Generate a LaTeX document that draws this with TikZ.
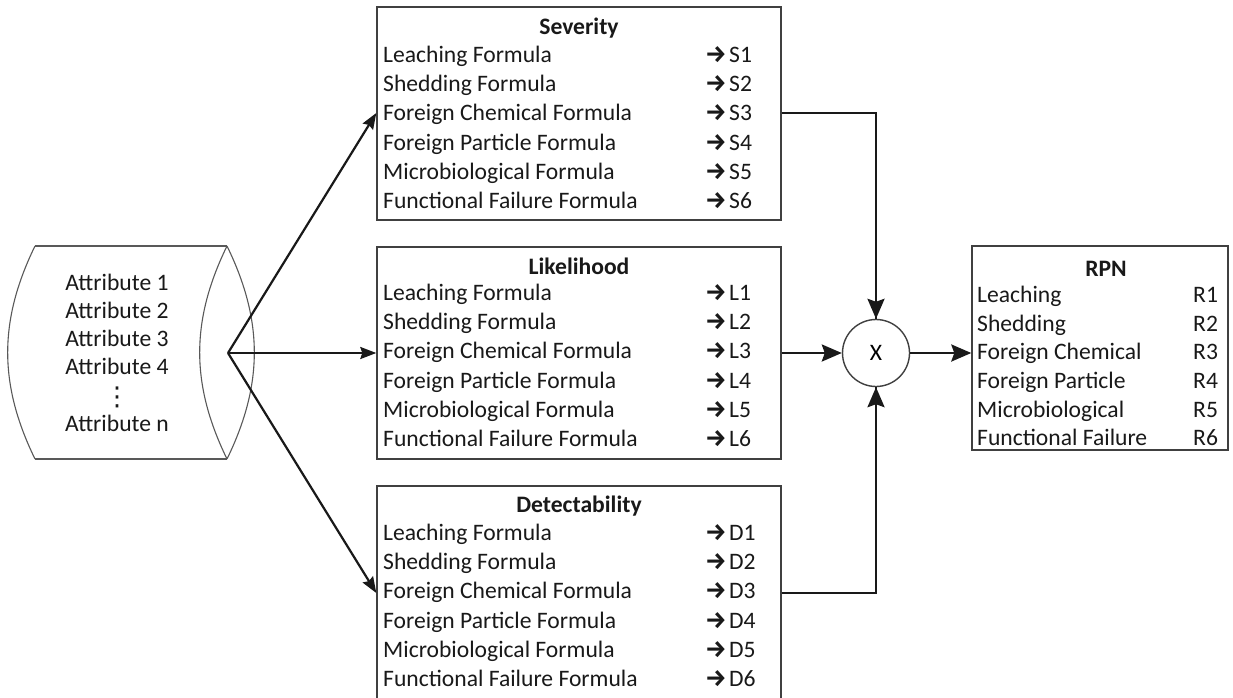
\documentclass[tikz,border=0pt]{standalone}
\usepackage{fontspec}
\setmainfont{Carlito}
\newfontfamily\arrfont{Fira Sans}
\newfontfamily\symfont{DejaVu Sans}
\usetikzlibrary{arrows.meta}
\newcommand{\rarr}{\makebox[24pt][l]{\arrfont\bfseries\fontsize{24}{26}\selectfont\char"2192}}
\begin{document}
\begin{tikzpicture}[x=1pt,y=-1pt,
  box/.style={draw=black!75, line width=1.4pt, inner sep=0pt},
  txt/.style={inner sep=0pt, font=\fontsize{23.6}{28.2}\selectfont, text=black!90},
  rowtxt/.style={txt, anchor=mid west},
  ttl/.style={txt, font=\fontsize{23.6}{28.2}\selectfont\bfseries},
  thin/.style={draw=black!65, line width=1.1pt},
  inarrow/.style={draw=black!90, line width=2.2pt, -{Stealth[length=16pt,width=12pt,inset=2pt]}},
  bigarrow/.style={draw=black!90, line width=2.6pt, -{Stealth[length=20pt,width=17pt,inset=3pt]}},
  plainline/.style={draw=black!90, line width=2.6pt}
]
\useasboundingbox (0,0) rectangle (1233,698);
\fill[white] (0,0) rectangle (1233,698);

% boxes
\node[box, minimum width=404pt, minimum height=213pt] (sev) at (579,113.5) {};
\node[box, minimum width=404pt, minimum height=212pt] (lik) at (579,353) {};
\node[box, minimum width=404pt, minimum height=214pt] (det) at (579,593) {};
\node[box, minimum width=256pt, minimum height=204pt] (rpn) at (1100,348) {};
\node[circle, draw=black!75, line width=1.4pt, minimum size=67pt, inner sep=0pt, font=\fontsize{23.6}{28.2}\selectfont] (mul) at (876,353) {X};

% titles
\node[ttl] (sevt) at (579,28) {Severity};
\node[ttl] (likt) at (579,266) {Likelihood};
\node[ttl] (dett) at (579,506) {Detectability};
\node[ttl] (rpnt) at (1106,269) {RPN};

% formula rows
\foreach \t [count=\i] in {Leaching Formula, Shedding Formula, Foreign Chemical Formula, Foreign Particle Formula, Microbiological Formula, Functional Failure Formula}{
  \node[rowtxt] (sev-\i) at (383,{60+(\i-1)*29.3}) {\t};
  \node[rowtxt] (sevr-\i) at (705,{60+(\i-1)*29.3}) {\rarr S\i};
  \node[rowtxt] (lik-\i) at (383,{298+(\i-1)*29.3}) {\t};
  \node[rowtxt] (likr-\i) at (705,{298+(\i-1)*29.3}) {\rarr L\i};
  \node[rowtxt] (det-\i) at (383,{538+(\i-1)*29.3}) {\t};
  \node[rowtxt] (detr-\i) at (705,{538+(\i-1)*29.3}) {\rarr D\i};
}
\foreach \t [count=\i] in {Leaching, Shedding, Foreign Chemical, Foreign Particle, Microbiological, Functional Failure}{
  \node[rowtxt] (rpn-\i) at (977,{300+(\i-1)*28.7}) {\t};
  \node[rowtxt] (rpnr-\i) at (1193,{300+(\i-1)*28.7}) {R\i};
}

% cylinder
\draw[thin] (35,246) -- (227,246);
\draw[thin] (35,459) -- (227,459);
\draw[thin] (35,246) to[bend right=26] (35,459);
\draw[thin] (227,246) to[bend right=26] (227,459);
\draw[thin] (227,246) to[bend left=26] (227,459);
\foreach \t [count=\i] in {Attribute 1, Attribute 2, Attribute 3, Attribute 4}{
  \node[txt] (att-\i) at (117,{282+(\i-1)*28.2}) {\t};
}
\node[inner sep=0pt, font=\symfont\fontsize{26}{26}\selectfont, text=black!90] (attdots) at (117,397) {⋮};
\node[txt] (att-n) at (117,423) {Attribute n};
\coordinate (src) at (228,353);
\coordinate (rowS) at (0,113);
\coordinate (rowD) at (0,593);

% connectors
\draw[inarrow] (src) -- (sev.west |- rowS);
\draw[inarrow] (src) -- (lik.west |- src);
\draw[inarrow] (src) -- (det.west |- rowD);
\draw[plainline] (sev.east |- rowS) -| (mul.north) ;
\draw[bigarrow] (mul.north |- rowS) -- (mul.north);
\draw[plainline] (det.east |- rowD) -| (mul.south);
\draw[bigarrow] (mul.south |- rowD) -- (mul.south);
\draw[bigarrow] (lik.east |- mul) -- (mul.west);
\draw[bigarrow] (mul.east) -- (rpn.west |- mul.east);
\end{tikzpicture}
\end{document}
